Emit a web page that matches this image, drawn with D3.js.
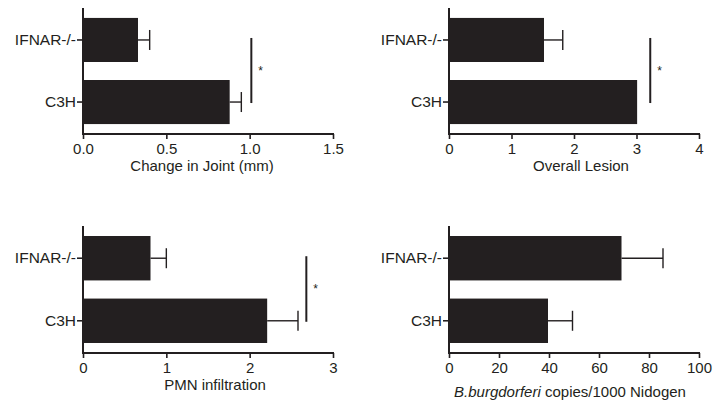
<!DOCTYPE html>
<meta charset="utf-8">
<style>
  body { margin: 0; background: #fff; }
  text { font-family: "Liberation Sans", Arial, sans-serif; fill: #231f20; }
</style>
<body>
<svg width="713" height="402"></svg>
<script src="https://cdn.jsdelivr.net/npm/d3@7"></script>
<script>
  // data
  var groups = ["IFNAR-/-", "C3H"]

  var jointMean = [0.33, 0.88]
  var jointSem = [0.07, 0.07]
  var jointTicks = [0, 0.5, 1.0, 1.5]

  var lesionMean = [1.52, 3.01]
  var lesionSem = [0.30, 0]
  var lesionTicks = [0, 1, 2, 3, 4]

  var pmnMean = [0.81, 2.21]
  var pmnSem = [0.19, 0.37]
  var pmnTicks = [0, 1, 2, 3]

  var bbMean = [69, 39.6]
  var bbSem = [16.6, 9.8]
  var bbTicks = [0, 20, 40, 60, 80, 100]

  var ink = "#231f20"
  var fs = 15
  var svg = d3.select("svg")

  var panels = [
    { mean: jointMean, sem: jointSem, ticks: jointTicks, max: 1.5, fmt: ".1f", sig: 1.01,
      title: "Change in Joint (mm)", x0: 83, top: 8, base: 134, titleY: 171, titleDx: -6 },
    { mean: lesionMean, sem: lesionSem, ticks: lesionTicks, max: 4, fmt: "d", sig: 3.22,
      title: "Overall Lesion", x0: 449, top: 8, base: 134, titleY: 171, titleDx: 7 },
    { mean: pmnMean, sem: pmnSem, ticks: pmnTicks, max: 3, fmt: "d", sig: 2.68,
      title: "PMN infiltration", x0: 83, top: 226, base: 353, titleY: 390, titleDx: 7 },
    { mean: bbMean, sem: bbSem, ticks: bbTicks, max: 100, fmt: "d", sig: null,
      title: null, x0: 449, top: 226, base: 353, titleY: 397, titleDx: -4 }
  ]

  panels.forEach(function(p, pi) {
    var x = d3.scaleLinear().domain([0, p.max]).range([p.x0, p.x0 + 250])
    var y = d3.scaleBand().domain(groups).range([p.top, p.base])
      .paddingInner(0.29).paddingOuter(0.16)

    var g = svg.append("g")

    // bars
    g.selectAll("rect.bar")
      .data(groups)
      .enter().append("rect")
      .attr("class", "bar")
      .attr("x", x(0))
      .attr("y", function(d) { return y(d) })
      .attr("width", function(d, i) { return x(p.mean[i]) - x(0) })
      .attr("height", y.bandwidth())
      .attr("fill", ink)

    // error bars (one-sided)
    groups.forEach(function(d, i) {
      if (!p.sem[i]) return
      var cy = y(d) + y.bandwidth() / 2
      var xe = x(p.mean[i] + p.sem[i])
      g.append("line")
        .attr("x1", x(p.mean[i])).attr("x2", xe)
        .attr("y1", cy).attr("y2", cy)
        .attr("stroke", ink).attr("stroke-width", 1.4)
      g.append("line")
        .attr("x1", xe).attr("x2", xe)
        .attr("y1", cy - 10).attr("y2", cy + 10)
        .attr("stroke", ink).attr("stroke-width", 1.4)
    })

    // x axis
    var xAxis = g.append("g")
      .attr("transform", "translate(0," + p.base + ")")
      .call(d3.axisBottom(x).tickValues(p.ticks).tickFormat(d3.format(p.fmt))
        .tickSize(5).tickSizeOuter(0).tickPadding(4))
    xAxis.select(".domain").attr("stroke", ink).attr("stroke-width", 2)
      .attr("d", "M" + (p.x0 - 1) + ",0H" + (p.x0 + 251))
    xAxis.selectAll(".tick line").attr("stroke", ink).attr("stroke-width", 1.6)
    xAxis.selectAll(".tick text").attr("font-size", fs).attr("fill", ink)
      .attr("font-family", "Liberation Sans, Arial, sans-serif")

    // y axis
    var yAxis = g.append("g")
      .attr("transform", "translate(" + p.x0 + ",0)")
      .call(d3.axisLeft(y).tickSize(6).tickSizeOuter(0).tickPadding(1))
    yAxis.select(".domain").attr("stroke", ink).attr("stroke-width", 2)
      .attr("d", "M0," + p.top + "V" + (p.base + 1))
    yAxis.selectAll(".tick line").attr("stroke", ink).attr("stroke-width", 1.6)
    yAxis.selectAll(".tick text").attr("font-size", fs + 0.5).attr("fill", ink)
      .attr("font-family", "Liberation Sans, Arial, sans-serif")

    // significance bar
    if (p.sig !== null) {
      var sx = x(p.sig)
      var y1 = y(groups[0]) + y.bandwidth() / 2 - 2
      var y2 = y(groups[1]) + y.bandwidth() / 2 + 1
      g.append("line")
        .attr("x1", sx).attr("x2", sx).attr("y1", y1).attr("y2", y2)
        .attr("stroke", ink).attr("stroke-width", 2)
      g.append("text")
        .attr("x", sx + 7).attr("y", (y1 + y2) / 2 + 4)
        .attr("font-size", 12)
        .text("*")
    }

    // axis title
    var t = g.append("text")
      .attr("x", p.x0 + 125 + p.titleDx)
      .attr("y", p.titleY)
      .attr("text-anchor", "middle")
      .attr("font-size", fs)
    if (p.title) {
      t.text(p.title)
    } else {
      t.append("tspan").attr("font-style", "italic").text("B.burgdorferi")
      t.append("tspan").text(" copies/1000 Nidogen")
    }
  })
</script>
</body>
